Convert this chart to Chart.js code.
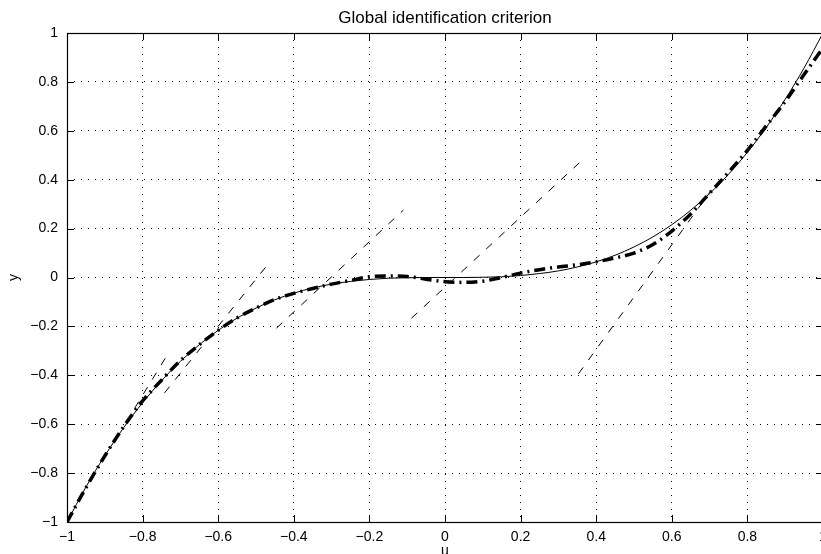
<!DOCTYPE html>
<html>
<head>
<meta charset="utf-8">
<script src="https://cdn.jsdelivr.net/npm/chart.js@4/dist/chart.umd.min.js"></script>
<style>
  html, body { margin: 0; padding: 0; background: #fff; overflow: hidden; }
  #wrap { position: relative; width: 840px; height: 570px; }
</style>
</head>
<body>
<div id="wrap"><canvas id="criterion" width="840" height="570"></canvas></div>
<script>
// input grid u, step 0.05
const uGrid = [
  -1, -0.95, -0.9, -0.85, -0.8, -0.75, -0.7, -0.65, -0.6, -0.55, -0.5,
  -0.45, -0.4, -0.35, -0.3, -0.25, -0.2, -0.15, -0.1, -0.05, 0,
  0.05, 0.1, 0.15, 0.2, 0.25, 0.3, 0.35, 0.4, 0.45, 0.5,
  0.55, 0.6, 0.65, 0.7, 0.75, 0.8, 0.85, 0.9, 0.95, 1,
]

// true static characteristic (thin solid)
const yTrue = [
  -1, -0.857, -0.729, -0.614, -0.512, -0.422, -0.343, -0.275, -0.216, -0.166, -0.125,
  -0.091, -0.064, -0.043, -0.027, -0.016, -0.008, -0.003, -0.001, 0, 0,
  0, 0.001, 0.003, 0.008, 0.016, 0.027, 0.043, 0.064, 0.091, 0.125,
  0.166, 0.216, 0.275, 0.343, 0.422, 0.512, 0.614, 0.729, 0.857, 1,
]

// identified global model (thick dash-dot)
const yModel = [
  -1, -0.86, -0.73, -0.61, -0.505, -0.42, -0.34, -0.275, -0.216, -0.165, -0.125,
  -0.09, -0.065, -0.045, -0.027, -0.012, 0.003, 0.006, 0.004, -0.007, -0.017,
  -0.02, -0.015, 0, 0.018, 0.032, 0.043, 0.052, 0.064, 0.08, 0.1,
  0.135, 0.19, 0.26, 0.345, 0.43, 0.52, 0.62, 0.72, 0.83, 0.94,
]

// local linear models (dashed), start/end points
const localU = [
  [-0.74, -0.835],
  [-0.742, -0.47],
  [-0.446, -0.11],
  [-0.089, 0.356],
  [0.353, 0.705],
]
const localY = [
  [-0.33, -0.57],
  [-0.472, 0.051],
  [-0.207, 0.276],
  [-0.167, 0.47],
  [-0.394, 0.358],
]

const xTicks = [-1, -0.8, -0.6, -0.4, -0.2, 0, 0.2, 0.4, 0.6, 0.8, 1]
const yTicks = [-1, -0.8, -0.6, -0.4, -0.2, 0, 0.2, 0.4, 0.6, 0.8, 1]

const FONT = 'Liberation Sans, Arial, Helvetica, sans-serif'
Chart.defaults.font.family = FONT
Chart.defaults.color = '#000'

function toPoints(xs, ys) {
  return xs.map((x, i) => ({ x, y: ys[i] }))
}

function tickText(value) {
  return String(value).replace('-', '\u2212')
}

// MATLAB-like box with inward tick marks
const frameTicks = {
  id: 'frameTicks',
  afterDraw(chart) {
    const { ctx, chartArea: a, scales } = chart
    const len = 7
    ctx.save()
    ctx.strokeStyle = '#000'
    ctx.lineWidth = 1
    ctx.beginPath()
    xTicks.forEach((v) => {
      const px = Math.round(scales.x.getPixelForValue(v)) + 0.5
      ctx.moveTo(px, a.bottom)
      ctx.lineTo(px, a.bottom - len)
      ctx.moveTo(px, a.top)
      ctx.lineTo(px, a.top + len)
    })
    yTicks.forEach((v) => {
      const py = Math.round(scales.y.getPixelForValue(v)) + 0.5
      ctx.moveTo(a.left, py)
      ctx.lineTo(a.left + len, py)
      ctx.moveTo(a.right, py)
      ctx.lineTo(a.right - len, py)
    })
    ctx.stroke()
    ctx.lineWidth = 1.2
    ctx.strokeRect(Math.round(a.left) + 0.5, Math.round(a.top) + 0.5,
      Math.round(a.right - a.left), Math.round(a.bottom - a.top))
    ctx.restore()
  },
}

const localSets = localU.map((xs, i) => ({
  data: toPoints(xs, localY[i]),
  borderColor: '#000',
  borderWidth: 1,
  borderDash: [8, 9],
  pointRadius: 0,
  tension: 0,
}))

new Chart(document.getElementById('criterion'), {
  type: 'line',
  data: {
    datasets: [
      ...localSets,
      {
        data: toPoints(uGrid, yTrue),
        borderColor: '#000',
        borderWidth: 1,
        pointRadius: 0,
        cubicInterpolationMode: 'monotone',
      },
      {
        data: toPoints(uGrid, yModel),
        borderColor: '#000',
        borderWidth: 3.5,
        borderDash: [11, 5, 2, 5],
        pointRadius: 0,
        cubicInterpolationMode: 'monotone',
      },
    ],
  },
  options: {
    responsive: false,
    animation: false,
    layout: { padding: { left: 0, right: 17, top: 0, bottom: 0 } },
    plugins: {
      legend: { display: false },
      tooltip: { enabled: false },
      title: {
        display: true,
        text: 'Global identification criterion',
        fullSize: false,
        color: '#000',
        font: { size: 17, weight: 'normal', lineHeight: 1 },
        padding: { top: 10, bottom: 6 },
      },
    },
    scales: {
      x: {
        type: 'linear',
        min: -1,
        max: 1,
        afterFit: (scale) => { scale.height = 48 },
        afterBuildTicks: (scale) => { scale.ticks = xTicks.map((value) => ({ value })) },
        grid: { color: '#000', lineWidth: 1, drawTicks: false },
        border: { display: false, dash: [1, 6] },
        ticks: {
          autoSkip: false,
          maxRotation: 0,
          padding: 7,
          font: { size: 14 },
          callback: tickText,
        },
        title: {
          display: true,
          text: 'u',
          font: { size: 14 },
          padding: { top: 0, bottom: 10 },
        },
      },
      y: {
        type: 'linear',
        min: -1,
        max: 1,
        afterFit: (scale) => { scale.width = 67 },
        afterBuildTicks: (scale) => { scale.ticks = yTicks.map((value) => ({ value })) },
        grid: { color: '#000', lineWidth: 1, drawTicks: false },
        border: { display: false, dash: [1, 6] },
        ticks: {
          autoSkip: false,
          padding: 9,
          font: { size: 14 },
          callback: tickText,
        },
        title: {
          display: true,
          text: 'y',
          font: { size: 14 },
          padding: { top: 6, bottom: 0 },
        },
      },
    },
  },
  plugins: [frameTicks],
})
</script>
</body>
</html>
